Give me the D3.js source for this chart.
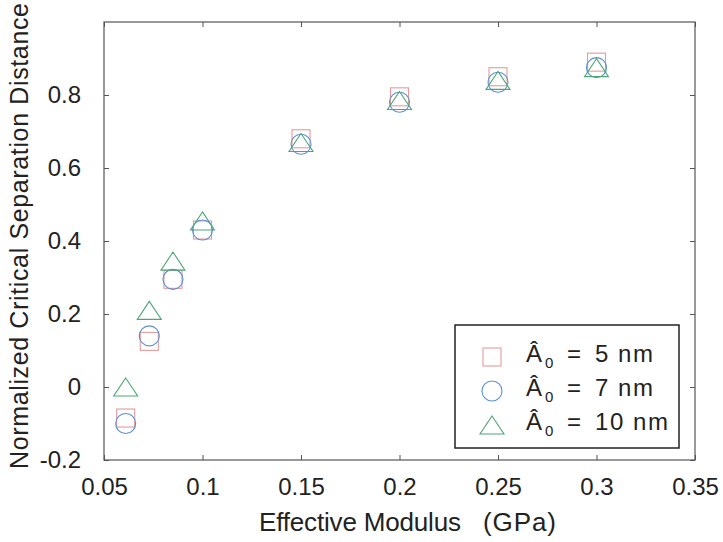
<!DOCTYPE html>
<html><head><meta charset="utf-8">
<script src="https://cdn.jsdelivr.net/npm/d3@7"></script>
<style>body{margin:0;background:#fff}svg{display:block;font-family:"Liberation Sans",Arial,sans-serif}</style>
</head><body><svg id="c" width="723" height="542"></svg>
<script>
const modulus = [0.061, 0.073, 0.085, 0.1, 0.15, 0.2, 0.25, 0.3];
const a5nm  = [-0.085, 0.125, 0.295, 0.43, 0.68, 0.795, 0.85, 0.89];
const a7nm  = [-0.10, 0.14, 0.295, 0.43, 0.665, 0.78, 0.835, 0.875];
const a10nm = [0.0, 0.21, 0.345, 0.455, 0.67, 0.785, 0.84, 0.875];
const xTicks = [0.05, 0.1, 0.15, 0.2, 0.25, 0.3, 0.35];
const yTicks = [-0.2, 0, 0.2, 0.4, 0.6, 0.8];
const seriesNames = ["5 nm", "7 nm", "10 nm"];

const svg = d3.select("#c");
const L = 104, R = 695, T = 22, B = 460;
const x = d3.scaleLinear().domain([0.05, 0.35]).range([L, R]);
const y = d3.scaleLinear().domain([-0.2, 1.0]).range([B, T]);
const fmt = d => d === 0 ? "0" : String(+d.toFixed(2));

// frame
svg.append("rect").attr("x", L).attr("y", T).attr("width", R - L).attr("height", B - T)
  .attr("fill", "none").attr("stroke", "#555").attr("stroke-width", 1.2);

const tl = 5;
const gx = svg.append("g").attr("transform", `translate(0,${B})`)
  .call(d3.axisBottom(x).tickValues(xTicks).tickFormat(fmt).tickSizeInner(-tl).tickSizeOuter(0).tickPadding(18));
const gxt = svg.append("g").attr("transform", `translate(0,${T})`)
  .call(d3.axisTop(x).tickValues(xTicks).tickFormat("").tickSizeInner(-tl).tickSizeOuter(0));
const gy = svg.append("g").attr("transform", `translate(${L},0)`)
  .call(d3.axisLeft(y).tickValues(yTicks).tickFormat(fmt).tickSizeInner(-tl).tickSizeOuter(0).tickPadding(23));
const gyr = svg.append("g").attr("transform", `translate(${R},0)`)
  .call(d3.axisRight(y).tickValues(yTicks).tickFormat("").tickSizeInner(-tl).tickSizeOuter(0));
[gx, gxt, gy, gyr].forEach(g => {
  g.select(".domain").remove();
  g.selectAll("line").attr("stroke", "#555");
  g.selectAll("text").attr("font-size", 24).attr("fill", "#222")
    .attr("font-family", '"Liberation Sans",Arial,sans-serif');
});

// axis titles
svg.append("text").attr("x", 259).attr("y", 531)
  .attr("font-size", 26).attr("fill", "#222")
  .attr("textLength", 202).attr("lengthAdjust", "spacing")
  .text("Effective Modulus");
svg.append("text").attr("x", 483).attr("y", 531)
  .attr("font-size", 26).attr("fill", "#222")
  .attr("textLength", 73).attr("lengthAdjust", "spacing")
  .text("(GPa)");
svg.append("text").attr("transform", "translate(28,236) rotate(-90)").attr("text-anchor", "middle")
  .attr("font-size", 25).attr("fill", "#222")
  .attr("textLength", 466).attr("lengthAdjust", "spacing")
  .text("Normalized Critical Separation Distance");

const colSq = "#e69a9a", colCi = "#5b8fd6", colTr = "#4fa678";
const sqS = 18, ciR = 10, trW = 24, trH = 18;
function square(g, cx, cy, c){ g.append("rect").attr("x", cx - sqS/2).attr("y", cy - sqS/2).attr("width", sqS).attr("height", sqS).attr("fill","none").attr("stroke", c).attr("stroke-width",1.1); }
function circle(g, cx, cy, c){ g.append("circle").attr("cx", cx).attr("cy", cy).attr("r", ciR).attr("fill","none").attr("stroke", c).attr("stroke-width",1.1); }
function tri(g, cx, cy, c){ g.append("path").attr("d", `M${cx},${cy - trH/2}L${cx + trW/2},${cy + trH/2}L${cx - trW/2},${cy + trH/2}Z`).attr("fill","none").attr("stroke", c).attr("stroke-width",1.1); }

const pts = svg.append("g");
modulus.forEach((m, i) => square(pts, x(m), y(a5nm[i]), colSq));
modulus.forEach((m, i) => circle(pts, x(m), y(a7nm[i]), colCi));
modulus.forEach((m, i) => tri(pts, x(m), y(a10nm[i]), colTr));

// legend
const lg = svg.append("g");
lg.append("rect").attr("x", 455).attr("y", 325).attr("width", 224).attr("height", 123)
  .attr("fill", "#fff").attr("stroke", "#222").attr("stroke-width", 1.5);
const markers = [square, circle, tri], cols = [colSq, colCi, colTr];
const valueLen = [58, 58, 73];
seriesNames.forEach((s, i) => {
  const cy = 357 + i * 34;
  markers[i](lg, 492, cy, cols[i]);
  const base = cy + 5;
  const t = lg.append("g").attr("fill", "#222");
  t.append("text").attr("x", 526).attr("y", base).attr("font-size", 24).text("Â");
  t.append("text").attr("x", 545).attr("y", base + 6).attr("font-size", 15).text("0");
  t.append("text").attr("x", 567).attr("y", base).attr("font-size", 24).text("=");
  t.append("text").attr("x", 595).attr("y", base).attr("font-size", 24)
    .attr("textLength", valueLen[i]).attr("lengthAdjust", "spacing").text(s);
});
</script></body></html>
